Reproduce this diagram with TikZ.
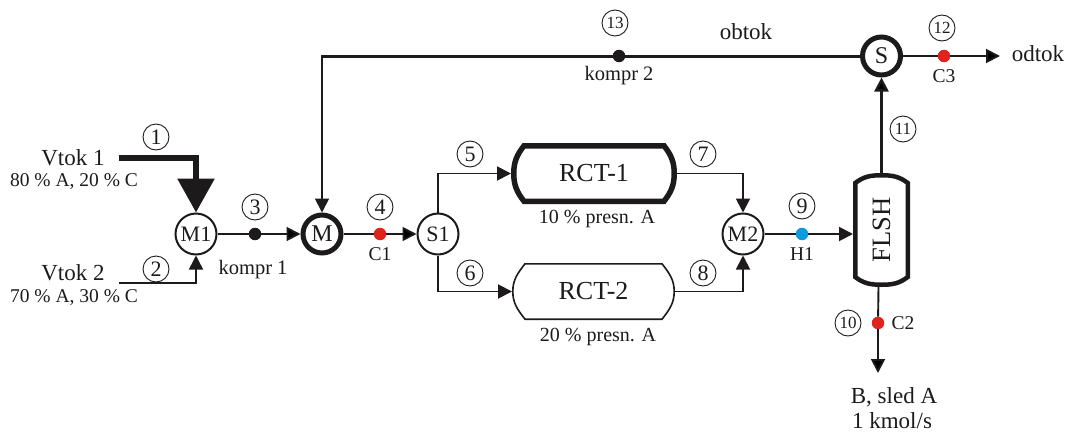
\documentclass[tikz,border=0pt]{standalone}
\usepackage{fontspec}
\setmainfont{Liberation Serif}
\usetikzlibrary{arrows.meta}

\definecolor{ink}{HTML}{1C1A1A}
\definecolor{dotred}{HTML}{E0231D}
\definecolor{dotblue}{HTML}{0D9BDE}

\newcommand{\fs}[1]{\fontsize{#1pt}{#1pt}\selectfont}

\tikzset{
  unit/.style={circle,draw=ink,fill=white,inner sep=0pt,line width=2pt,minimum size=41pt,font=\fs{22}},
  heavy/.style={line width=5pt,minimum size=38pt,font=\fs{24}},
  num/.style={circle,draw=ink,line width=0.9pt,inner sep=0pt,minimum size=26pt,font=\fs{22}},
  numsm/.style={num,font=\fs{17}},
  probe/.style={circle,inner sep=0pt,minimum size=12.5pt,fill=#1},
  probe/.default=ink,
  vessel/.style={inner sep=0pt,outer sep=0pt,font=\fs{26}},
  txt/.style={inner sep=0pt,font=\fs{23}},
  small/.style={inner sep=0pt,font=\fs{19.5}},
  flow/.style={line width=1.9pt,draw=ink},
  big/.style={>={Triangle[length=34pt,width=36pt]},line width=6pt,draw=ink}
}

\newcommand{\hvessel}[2]{%
  \draw[draw=ink,line width=#2]
    ([shift={(13pt,-.5*#2)}]#1.north west) -- ([shift={(-13pt,-.5*#2)}]#1.north east)
    to[out=-52,in=90] ([xshift=-.5*#2]#1.east) to[out=-90,in=52] ([shift={(-13pt,.5*#2)}]#1.south east)
    -- ([shift={(13pt,.5*#2)}]#1.south west)
    to[out=128,in=-90] ([xshift=.5*#2]#1.west) to[out=90,in=-128] ([shift={(13pt,-.5*#2)}]#1.north west) -- cycle;}

\begin{document}
\begin{tikzpicture}[x=1pt,y=-1pt,>={Triangle[length=14pt,width=14pt]},text=ink]
\useasboundingbox (0,0) rectangle (1068,434);

% units
\node[unit]        (m1)  at (196,234)                        {M1};
\node[probe]       (d3)  [right of=m1,node distance=59pt]    {};
\node[unit,heavy]  (m)   [right of=m1,node distance=126pt]   {M};
\node[probe=dotred] (d4) [right of=m,node distance=58pt]     {};
\node[unit]        (s1)  [right of=d4,node distance=58pt]    {S1};
\node[unit]        (m2)  [right of=s1,node distance=305pt]   {M2};
\node[probe=dotblue] (d9) [right of=m2,node distance=59pt]   {};
\node[unit,heavy]  (s)   at (881.5,56)                       {S};
\node[probe=dotred] (d12) [right of=s,node distance=62.5pt]  {};
\node[probe]       (d13) at (619,56)                         {};

\node[vessel,minimum width=166pt,minimum height=61pt] (rct1) at (594,173.5) {RCT-1};
\node[vessel,minimum width=163pt,minimum height=57pt] (rct2) at (593.5,291.5) {RCT-2};
\node[vessel,minimum width=57pt,minimum height=114pt,font=\fs{26.5}] (flsh) [below of=s,node distance=174pt] {\rotatebox{90}{FLSH}};
\node[probe=dotred] (d10) at (878,323) {};

\hvessel{rct1}{5.5pt}
\hvessel{rct2}{1.6pt}
\draw[draw=ink,line width=4.5pt]
  ([shift={(2.25pt,-10pt)}]flsh.north west) to[out=38,in=180] ([yshift=-2.25pt]flsh.north)
  to[out=0,in=142] ([shift={(-2.25pt,-10pt)}]flsh.north east)
  -- ([shift={(-2.25pt,10pt)}]flsh.south east) to[out=-142,in=0] ([yshift=2.25pt]flsh.south)
  to[out=180,in=-38] ([shift={(2.25pt,10pt)}]flsh.south west) -- cycle;

% free ends
\coordinate (in1) at (119,158);
\coordinate (in2) at (119,283);
\coordinate (out12) at (1000,56);
\coordinate (out10) at (878,373);

% streams
\draw[big,->] (in1) -| (m1);
\draw[flow,line width=1.5pt,->] (in2) -| (m1);
\draw[flow,->] (s1) |- (rct1);
\draw[flow,->] (s1) |- (rct2);
\draw[flow,->] (rct1) -| (m2);
\draw[flow,->] (rct2) -| (m2);
\draw[flow,->] (d9) -- (d9 -| flsh.west);
\draw[flow,line width=3pt] (s) -- (d13) -- (m |- d13);
\draw[flow,->] ([yshift=1.5pt]m |- d13) -- (m);
\draw[flow] ([xshift=-3pt]flsh.south) -- (d10);

\path[flow,->] (m1) edge[-] (d3)
               (d3) edge (m)
               (m)  edge[-] (d4)
               (d4) edge (s1)
               (m2) edge[-] (d9)
               (flsh) edge[line width=2.4pt] (s)
               (s)  edge[-] (d12)
               (d12) edge (out12)
               (d10) edge (out10);

% stream numbers
\node[num]   (n1)  at (156,137) {1};
\node[num]   (n2)  at (156,269) {2};
\node[num]   (n3)  [above of=d3,node distance=27pt]  {3};
\node[num]   (n4)  [above of=d4,node distance=27pt]  {4};
\node[num]   (n5)  at (470,154) {5};
\node[num]   (n6)  at (470,273) {6};
\node[num]   (n7)  at (703,154) {7};
\node[num]   (n8)  at (703,273) {8};
\node[num]   (n9)  [above of=d9,node distance=28pt]  {9};
\node[numsm] (n10) [left of=d10,node distance=30pt] {10};
\node[numsm] (n11) at (903,129) {11};
\node[numsm] (n12) at (942,28)  {12};
\node[numsm] (n13) at (615,23)  {13};

% texts
\node[txt]   (vtok1) at (73,158)  {Vtok 1};
\node[small] (feed1) at (74,182)  {80 \% A, 20 \% C};
\node[txt]   (vtok2) at (73,273)  {Vtok 2};
\node[small] (feed2) at (74,298)  {70 \% A, 30 \% C};
\node[small,font=\fs{20.5}] (k1) at (253,270) {kompr 1};
\node[small,font=\fs{20.5}] (k2) [below of=d13,node distance=20pt] {kompr 2};
\node[small] (c1) [below of=d4,node distance=20pt] {C1};
\node[small] (h1) [below of=d9,node distance=20pt] {H1};
\node[small] (c3) [below of=d12,node distance=20pt] {C3};
\node[small] (c2) [right of=d10,node distance=25pt] {C2};
\node[small,font=\fs{20}] (x1) at (597,219) {10 \% presn. A};
\node[small,font=\fs{20}] (x2) at (598,337) {20 \% presn. A};
\node[txt]   (obtok) at (746,32)  {obtok};
\node[txt]   (odtok) at (1038,54) {odtok};
\node[txt]   (prod)  at (894,397) {B, sled A};
\node[txt]   (rate)  at (892,421) {1 kmol/s};
\end{tikzpicture}
\end{document}
